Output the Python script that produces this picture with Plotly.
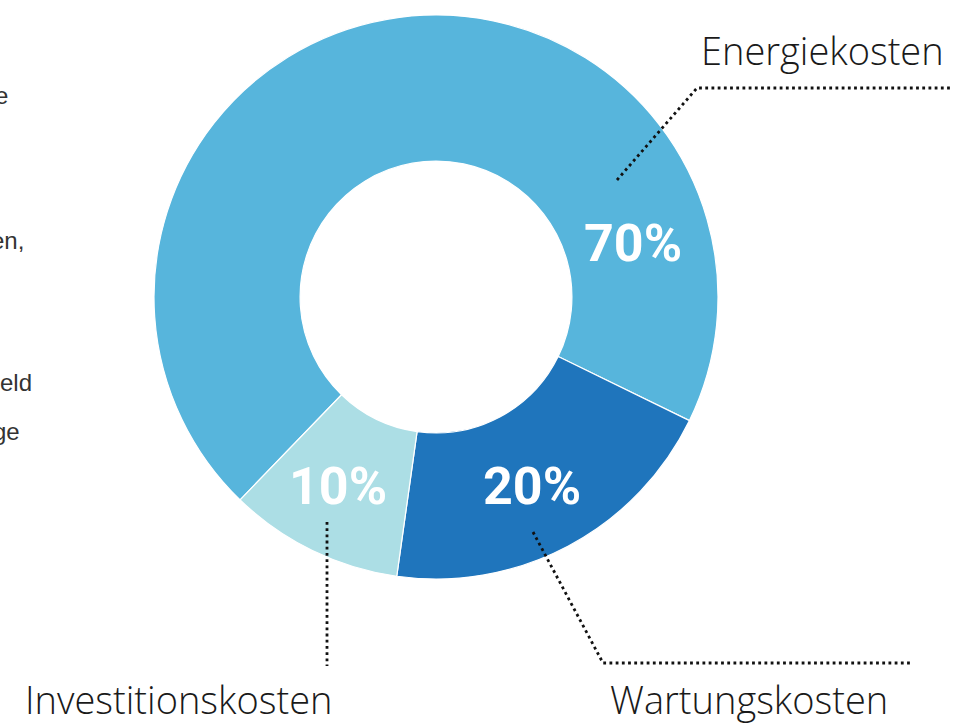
import plotly.graph_objects as go

W, H = 954, 725

categories = ["Energiekosten", "Wartungskosten", "Investitionskosten"]
values = [70, 20, 10]
colors = ["#57b5dc", "#1f75bc", "#acdee5"]
pct_labels = [f"{v}%" for v in values]

# left-hand paragraph fragments (cut off by the frame)
side_text = ["e", "en,", "eld", "ge"]

def px(x):
    return x / W

def py(y):
    return 1 - y / H

fig = go.Figure(go.Pie(
    labels=categories,
    values=values,
    sort=False,
    direction="clockwise",
    rotation=224,
    hole=0.482,
    marker=dict(colors=colors, line=dict(color="white", width=1.2)),
    textinfo="none",
    hoverinfo="label+percent",
    showlegend=False,
    domain=dict(x=[px(154), px(718)], y=[py(579), py(15)]),
))

ann = []
# percentage labels
pct_pos = [(633, 244), (532, 486), (338, 486)]
for t, (x, y) in zip(pct_labels, pct_pos):
    ann.append(dict(x=px(x), y=py(y), xref="paper", yref="paper", text=f"<b>{t}</b>",
                    showarrow=False, xanchor="center", yanchor="middle",
                    font=dict(family="Roboto", size=52, color="white")))
# category labels
lab_pos = [(946, 50, "right"), (749, 699, "center"), (178, 699, "center")]
for t, (x, y, a) in zip(categories, lab_pos):
    ann.append(dict(x=px(x), y=py(y), xref="paper", yref="paper", text=t,
                    showarrow=False, xanchor=a, yanchor="middle",
                    font=dict(family="Open Sans", size=38, color="#1a1a1a", weight=300)))
# side fragments
side_pos = [(10, 95), (26, 240), (34, 382), (22, 432)]
for t, (x, y) in zip(side_text, side_pos):
    ann.append(dict(x=px(x), y=py(y), xref="paper", yref="paper", text=t,
                    showarrow=False, xanchor="right", yanchor="middle",
                    font=dict(family="Liberation Sans", size=24, color="#333333")))

# dotted leader lines
leaders = [
    [(617, 180), (697, 88), (953, 88)],
    [(533, 532), (603, 663), (913, 663)],
    [(327, 522), (327, 666)],
]
shapes = []
for pts in leaders:
    d = "M " + " L ".join(f"{px(x)},{py(y)}" for x, y in pts)
    shapes.append(dict(type="path", path=d, xref="paper", yref="paper",
                       line=dict(color="#111111", width=2.8, dash="2.8px,3.4px")))

fig.update_layout(
    width=W, height=H,
    margin=dict(l=0, r=0, t=0, b=0),
    paper_bgcolor="white", plot_bgcolor="white",
    annotations=ann, shapes=shapes,
)

fig.write_html("out.html", config={"displayModeBar": False},
               post_script="document.body.style.margin='0';")
